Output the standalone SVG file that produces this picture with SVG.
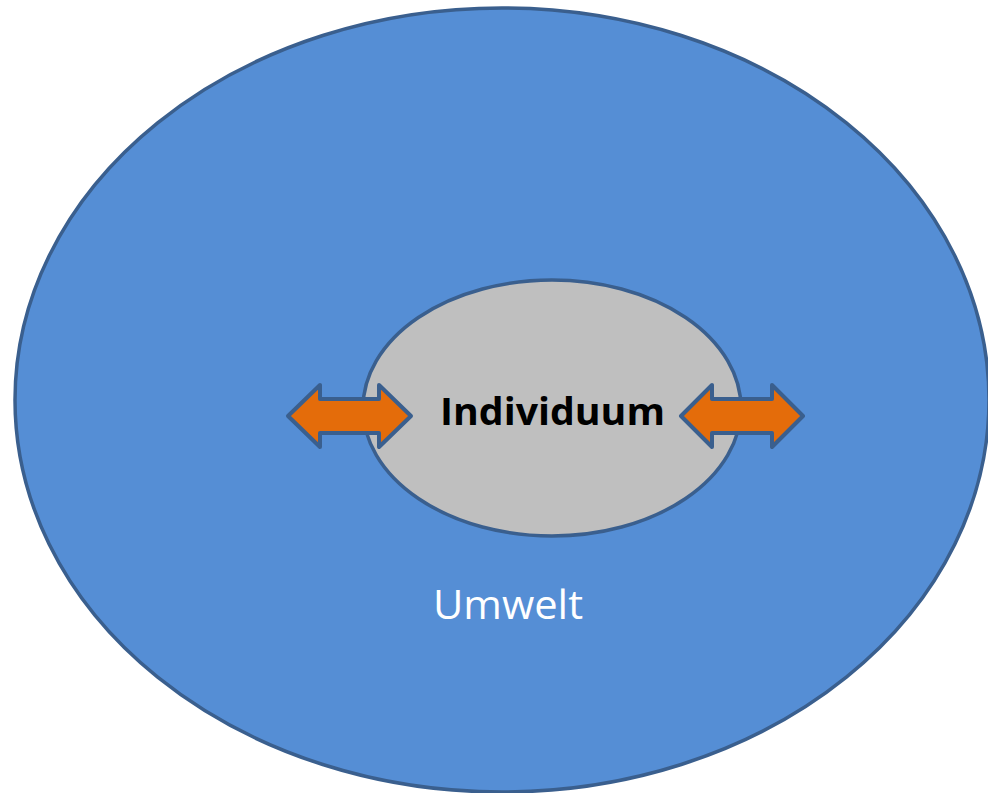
<svg xmlns="http://www.w3.org/2000/svg" width="988" height="793" viewBox="0 0 988 793">
<style>
.outline{stroke:#3a5f8e;stroke-width:3.5}
.arrow{fill:#e46c0a;stroke:#3a5f8e;stroke-width:4;stroke-linejoin:round}
.lbl{font-family:"Open Sans","Liberation Sans",sans-serif}
</style>
<rect width="988" height="793" fill="#ffffff"/>
<g id="umwelt">
<ellipse cx="502" cy="400" rx="487" ry="392" fill="#558ed5" class="outline"/>
<text x="508" y="619" class="lbl" font-size="40" fill="#ffffff" text-anchor="middle" textLength="150" lengthAdjust="spacingAndGlyphs">Umwelt</text>
</g>
<g id="individuum">
<ellipse cx="552" cy="408" rx="189" ry="128" fill="#bfbfbf" class="outline"/>
<text x="552.5" y="425" class="lbl" font-size="37" font-weight="bold" fill="#000000" text-anchor="middle" textLength="225" lengthAdjust="spacingAndGlyphs">Individuum</text>
</g>
<g id="connectors">
<path class="arrow" d="M288,416 L320,385 L320,399 L379,399 L379,385 L411,416 L379,447 L379,433 L320,433 L320,447 Z"/>
<path class="arrow" d="M681,416 L712,385 L712,399 L772,399 L772,385 L803,416 L772,447 L772,433 L712,433 L712,447 Z"/>
</g>
</svg>
